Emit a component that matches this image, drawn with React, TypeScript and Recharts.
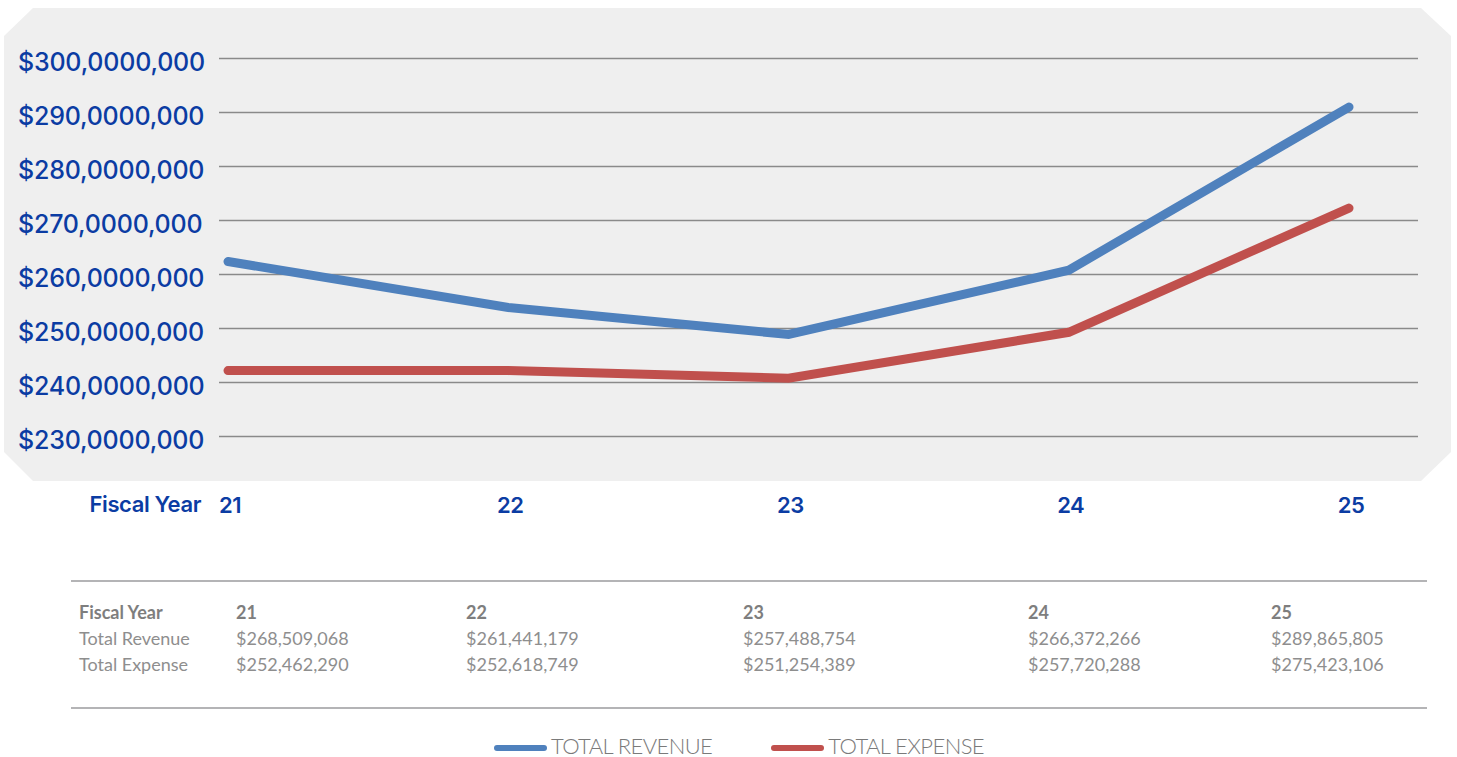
import React from "react";
import { LineChart, Line, XAxis, YAxis, CartesianGrid, Label } from "recharts";

// fiscal years on the x axis
const years = ["21", "22", "23", "24", "25"];

// values as plotted in the chart (millions of dollars)
const revenuePlotted = [262.4, 253.9, 248.9, 260.8, 291.0];
const expensePlotted = [242.2, 242.2, 240.8, 249.3, 272.3];

// y axis ticks and their printed labels (as they appear in the source)
const yTicks = [230, 240, 250, 260, 270, 280, 290, 300];
const yTickLabels = [
  "$230,0000,000",
  "$240,0000,000",
  "$250,0000,000",
  "$260,0000,000",
  "$270,0000,000",
  "$280,0000,000",
  "$290,0000,000",
  "$300,0000,000",
];

// table underneath the chart
const tableRevenue = ["$268,509,068", "$261,441,179", "$257,488,754", "$266,372,266", "$289,865,805"];
const tableExpense = ["$252,462,290", "$252,618,749", "$251,254,389", "$257,720,288", "$275,423,106"];

const series = [
  { key: "revenue", name: "TOTAL REVENUE", color: "#4f81bd" },
  { key: "expense", name: "TOTAL EXPENSE", color: "#c0504d" },
];

const data = years.map((year, i) => ({
  year,
  revenue: revenuePlotted[i],
  expense: expensePlotted[i],
}));

const BLUE = "#0b3ca3";
const FONT = "Inter, 'Noto Sans', sans-serif";
const LIGHT_FONT = "Lato, 'Open Sans', sans-serif";

const YTick = ({ y, payload }: any) => {
  const idx = yTicks.indexOf(payload.value);
  return (
    <text
      x={18}
      y={y}
      dy={3}
      dominantBaseline="central"
      textAnchor="start"
      fill={BLUE}
      fontSize={25}
      fontWeight={500}
      letterSpacing={-0.2}
      fontFamily={FONT}
    >
      {yTickLabels[idx]}
    </text>
  );
};

const XTick = ({ x, y, payload }: any) => (
  <text
    x={x + 2}
    y={y + 60}
    dominantBaseline="central"
    textAnchor="middle"
    fill={BLUE}
    fontSize={22}
    fontWeight={600}
    letterSpacing={-0.4}
    fontFamily={FONT}
  >
    {payload.value}
  </text>
);

const Panel = () => (
  <div
    style={{
      position: "absolute",
      left: 4,
      top: 8,
      width: 1447,
      height: 473,
      background: "#efefef",
      clipPath:
        "polygon(29px 0, calc(100% - 30px) 0, 100% 28px, 100% calc(100% - 29px), calc(100% - 30px) 100%, 29px 100%, 0 calc(100% - 29px), 0 28px)",
    }}
  />
);

const Table = () => {
  const cell: React.CSSProperties = { whiteSpace: "nowrap" };
  const head: React.CSSProperties = { ...cell, fontWeight: 700, color: "#7e7e7e" };
  return (
    <div
      style={{
        position: "absolute",
        left: 71,
        top: 580,
        width: 1356,
        height: 129,
        boxSizing: "border-box",
        borderTop: "2px solid #b4b4b6",
        borderBottom: "2px solid #b4b4b6",
        paddingTop: 17,
        paddingLeft: 8,
        fontFamily: LIGHT_FONT,
        fontSize: 18,
        lineHeight: "26px",
        color: "#8e8e8e",
        fontWeight: 400,
        display: "grid",
        gridTemplateColumns: "157px 230px 277px 285px 243px 1fr",
        gridAutoRows: "26px",
      }}
    >
      <div style={head}>Fiscal Year</div>
      {years.map((y) => (
        <div key={"h" + y} style={head}>
          {y}
        </div>
      ))}
      <div style={cell}>Total Revenue</div>
      {tableRevenue.map((v, i) => (
        <div key={"r" + i} style={cell}>
          {v}
        </div>
      ))}
      <div style={cell}>Total Expense</div>
      {tableExpense.map((v, i) => (
        <div key={"e" + i} style={cell}>
          {v}
        </div>
      ))}
    </div>
  );
};

const ChartLegend = () => (
  <div
    style={{
      position: "absolute",
      left: 494,
      top: 735,
      height: 22,
      display: "flex",
      alignItems: "center",
      gap: 59,
      fontFamily: LIGHT_FONT,
      fontWeight: 300,
      fontSize: 22,
      lineHeight: "22px",
      color: "#7a7a7a",
    }}
  >
    {series.map((s) => (
      <div key={s.key} style={{ display: "flex", alignItems: "center" }}>
        <span
          style={{
            display: "inline-block",
            width: 53,
            height: 6,
            borderRadius: 3,
            background: s.color,
            marginRight: 4,
            marginTop: 4,
          }}
        />
        <span style={{ letterSpacing: -0.6 }}>{s.name}</span>
      </div>
    ))}
  </div>
);

export default function App() {
  return (
    <div style={{ position: "absolute", left: 0, top: 0, width: 1457, height: 757, background: "#fff" }}>
      <Panel />
      <div style={{ position: "absolute", left: 0, top: 0 }}>
        <LineChart
          width={1457}
          height={757}
          data={data}
          margin={{ top: 58.5, right: 39, left: 0, bottom: 185.5 }}
        >
          <CartesianGrid vertical={false} stroke="#8a8a8a" strokeWidth={1.3} />
          <YAxis
            type="number"
            domain={[230, 300]}
            ticks={yTicks}
            width={219}
            axisLine={false}
            tickLine={false}
            tick={<YTick />}
            interval={0}
          />
          <XAxis
            dataKey="year"
            height={135}
            axisLine={false}
            tickLine={false}
            padding={{ left: 9, right: 69 }}
            tick={<XTick />}
            interval={0}
          >
            <Label
              value="Fiscal Year"
              position="left"
              offset={18}
              fill={BLUE}
              fontSize={22}
              fontWeight={600}
              letterSpacing={-0.4}
              fontFamily={FONT}
            />
          </XAxis>
          {series.map((s) => (
            <Line
              key={s.key}
              type="linear"
              dataKey={s.key}
              name={s.name}
              stroke={s.color}
              strokeWidth={9}
              strokeLinecap="round"
              dot={false}
              activeDot={false}
              isAnimationActive={false}
            />
          ))}
        </LineChart>
      </div>
      <Table />
      <ChartLegend />
    </div>
  );
}
